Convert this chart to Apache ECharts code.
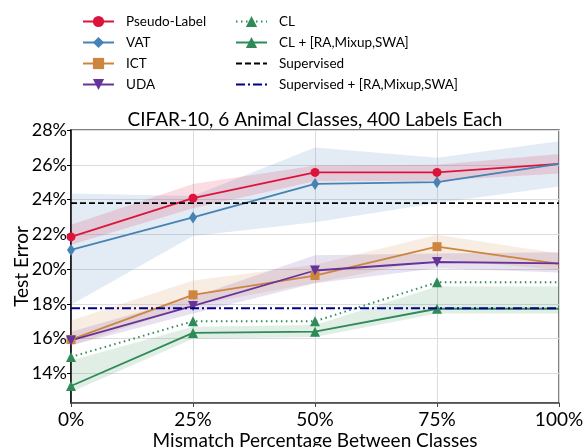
<!DOCTYPE html>
<html>
<head>
<meta charset="utf-8">
<script src="https://cdn.jsdelivr.net/npm/echarts@6/dist/echarts.min.js"></script>
<style>html,body{margin:0;padding:0;background:#fff}#c{width:584px;height:447px}</style>
</head>
<body>
<div id="c"></div>
<script>
const categories = ['0%', '25%', '50%', '75%', '100%'];
const pseudoLabel = [21.85, 24.08, 25.56, 25.56, 26.05];
const pseudoLabelLo = [21.4, 23.5, 25.05, 25.08, 25.5];
const pseudoLabelHi = [22.55, 24.9, 25.96, 26.0, 26.62];
const vat = [21.1, 22.97, 24.9, 25.0, 26.05];
const vatLo = [17.95, 21.9, 22.7, 23.8, 24.75];
const vatHi = [24.35, 24.2, 27.0, 26.4, 27.35];
const ict = [15.95, 18.52, 19.63, 21.29, 20.3];
const ictLo = [15.6, 17.9, 19.2, 20.6, 19.95];
const ictHi = [17.05, 19.35, 20.25, 21.97, 20.9];
const uda = [15.9, 17.88, 19.92, 20.41, 20.33];
const udaLo = [15.6, 17.45, 19.18, 20.05, 19.8];
const udaHi = [16.4, 18.4, 20.8, 20.9, 20.97];
const cl = [14.95, 17.0, 17.0, 19.24, 19.24];
const clPlus = [13.28, 16.33, 16.4, 17.72, 17.72];
const clPlusLo = [12.93, 16.0, 16.1, 17.45, 17.45];
const clPlusHi = [14.75, 16.68, 16.78, 19.0, 19.0];
const supervised = [23.8, 23.8, 23.8, 23.8, 23.8];
const supervisedPlus = [17.75, 17.75, 17.75, 17.75, 17.75];

const FONT = 'Lato';
const C = {
  pl: '#dc143c', vat: '#4682b4', ict: '#cd853f', uda: '#663399',
  cl: '#2e8b57', sup: '#000000', supp: '#00008b'
};

function band(id, lo, hi, color, op) {
  return [
    {type: 'line', stack: id, data: lo, symbol: 'none', silent: true, z: 1,
     lineStyle: {opacity: 0}, areaStyle: {opacity: 0}},
    {type: 'line', stack: id, data: hi.map((h, i) => +(h - lo[i]).toFixed(3)), symbol: 'none', silent: true, z: 1,
     lineStyle: {opacity: 0}, areaStyle: {color: color, opacity: op}}
  ];
}
// markers are drawn on every point except the last one (as in the reference)
function marked(arr) {
  return arr.map((v, i) => i === arr.length - 1 ? {value: v, symbol: 'none'} : v);
}
function line(name, data, color, symbol, size, opts) {
  return Object.assign({
    name: name, type: 'line', data: marked(data), symbol: symbol, symbolSize: size, z: 3,
    itemStyle: {color: color}, lineStyle: {color: color, width: 1.8},
    emphasis: {disabled: true}
  }, opts || {});
}

const series = [].concat(
  band('b1', vatLo, vatHi, C.vat, 0.15),
  band('b2', pseudoLabelLo, pseudoLabelHi, C.pl, 0.15),
  band('b3', ictLo, ictHi, C.ict, 0.15),
  band('b4', udaLo, udaHi, C.uda, 0.15),
  band('b5', clPlusLo, clPlusHi, C.cl, 0.15),
  [
    line('Pseudo-Label', pseudoLabel, C.pl, 'circle', 9),
    line('VAT', vat, C.vat, 'diamond', [8, 12]),
    line('ICT', ict, C.ict, 'rect', 9),
    line('UDA', uda, C.uda, 'triangle', 10, {symbolRotate: 180}),
    line('CL', cl, C.cl, 'triangle', 10, {lineStyle: {color: C.cl, width: 2, type: [1.5, 3.5]}}),
    line('CL + [RA,Mixup,SWA]', clPlus, C.cl, 'triangle', 10),
    {name: 'Supervised', type: 'line', data: supervised, showSymbol: false, symbol: 'none', z: 3,
     itemStyle: {color: C.sup}, lineStyle: {color: C.sup, width: 1.8, type: [6, 3]}, emphasis: {disabled: true}},
    {name: 'Supervised + [RA,Mixup,SWA]', type: 'line', data: supervisedPlus, showSymbol: false, symbol: 'none', z: 4,
     itemStyle: {color: C.supp}, lineStyle: {color: C.supp, width: 1.8, type: [9, 3, 2, 3]}, emphasis: {disabled: true}}
  ]
);

const legendCommon = {
  orient: 'vertical', itemWidth: 31, itemHeight: 14, itemGap: 7,
  textStyle: {fontFamily: FONT, fontSize: 13.5, lineHeight: 14, color: '#000', padding: [0, 0, 0, 7]},
  selectedMode: false
};

const chart = echarts.init(document.getElementById('c'), null, {renderer: 'canvas'});
chart.setOption({
  animation: false,
  backgroundColor: '#fff',
  graphic: [
    {type: 'text', x: 315, y: 120, z: 10,
     style: {text: 'CIFAR-10, 6 Animal Classes, 400 Labels Each', fontFamily: FONT, fontSize: 19,
             fill: '#000', textAlign: 'center', textVerticalAlign: 'middle'}}
  ],
  legend: [
    Object.assign({left: 77, top: 9.5, data: ['Pseudo-Label', 'VAT', 'ICT', 'UDA']}, legendCommon),
    Object.assign({left: 230, top: 9.5, data: [
      'CL', 'CL + [RA,Mixup,SWA]',
      {name: 'Supervised', itemStyle: {opacity: 0}},
      {name: 'Supervised + [RA,Mixup,SWA]', itemStyle: {opacity: 0}}
    ]}, legendCommon)
  ],
  grid: {left: 71, right: 25, top: 130, bottom: 44, show: true, borderColor: '#555', borderWidth: 1.5,
         containLabel: false, outerBoundsMode: 'none'},
  xAxis: {
    type: 'category', data: categories, boundaryGap: false,
    axisLine: {lineStyle: {color: '#444', width: 1.5}},
    axisTick: {show: true, length: 4, alignWithLabel: true, lineStyle: {color: '#444'}},
    axisLabel: {fontFamily: FONT, fontSize: 19, color: '#000', margin: 7},
    splitLine: {show: true, lineStyle: {color: '#dcdcdc', width: 1}},
    name: 'Mismatch Percentage Between Classes', nameLocation: 'middle', nameGap: 28, nameMoveOverlap: false,
    nameTextStyle: {fontFamily: FONT, fontSize: 19, color: '#000'}
  },
  yAxis: {
    type: 'value', min: 12.3, max: 28, splitNumber: 8, minInterval: 2, maxInterval: 2,
    axisLine: {show: true, lineStyle: {color: '#000', width: 1.5}},
    axisTick: {show: true, length: 4, lineStyle: {color: '#000'}},
    axisLabel: {fontFamily: FONT, fontSize: 18, color: '#000', margin: 4, showMinLabel: false,
                formatter: v => v + '%'},
    splitLine: {show: true, lineStyle: {color: '#dcdcdc', width: 1}},
    name: 'Test Error', nameLocation: 'middle', nameGap: 40, nameMoveOverlap: false,
    nameTextStyle: {fontFamily: FONT, fontSize: 19, color: '#000'}
  },
  series: series
});
</script>
</body>
</html>
